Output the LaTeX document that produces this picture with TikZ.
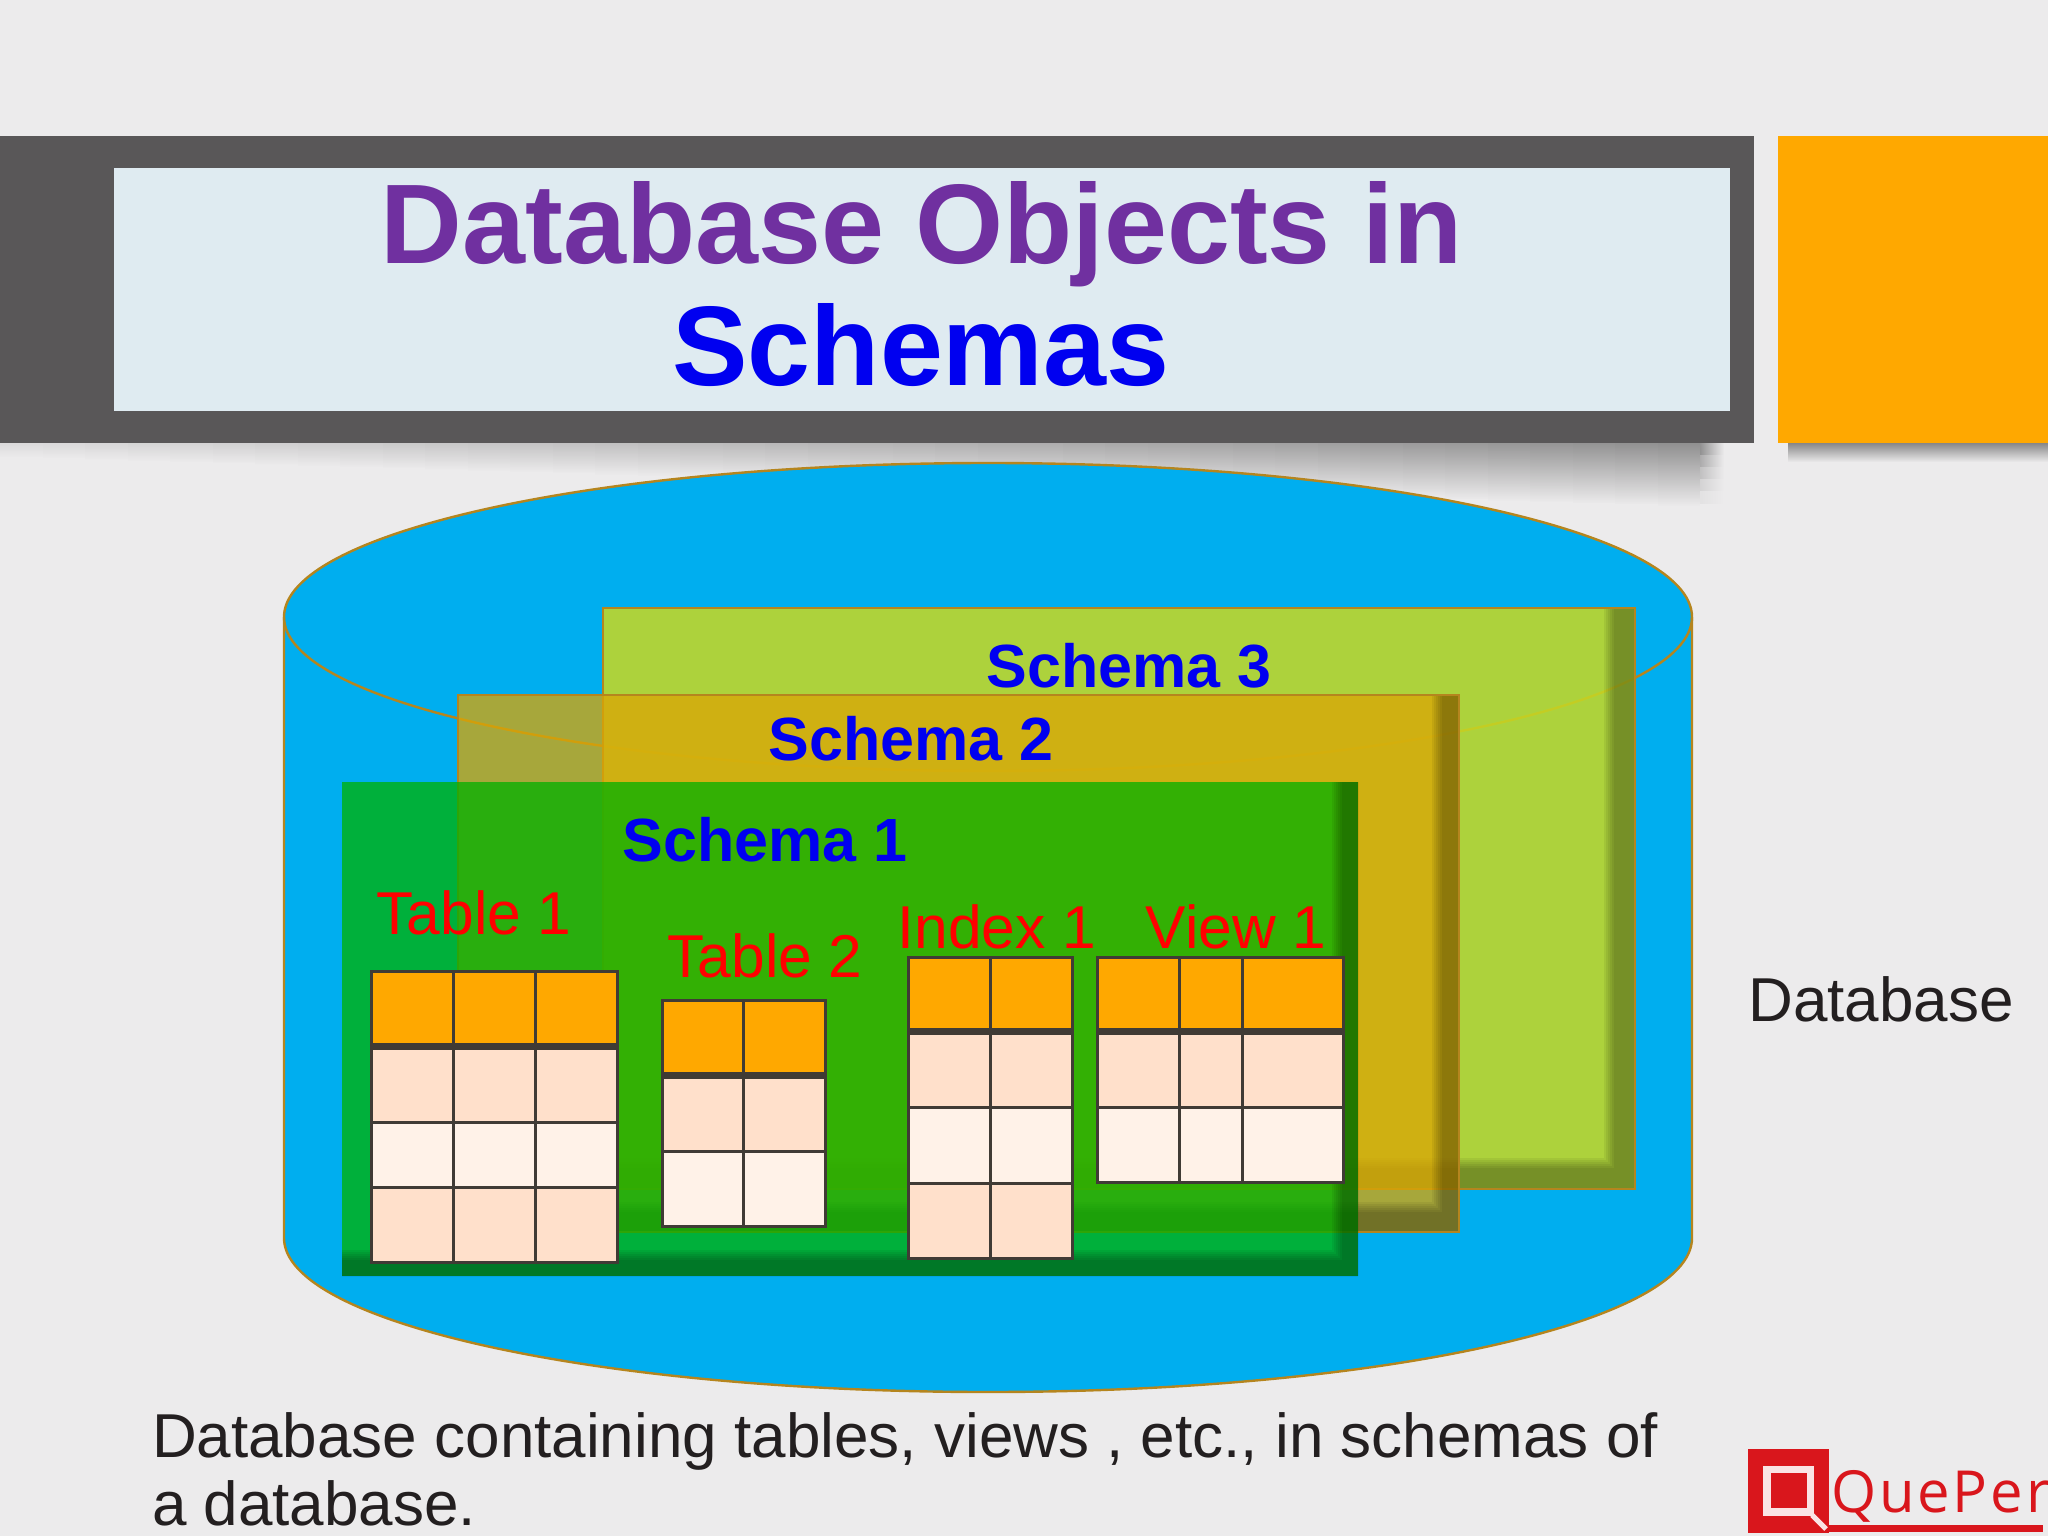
\documentclass[tikz,border=0pt]{standalone}
\usepackage{fontspec}
\setmainfont{Liberation Sans}
\newfontfamily\logofont[LetterSpace=5]{Open Sans}
\usetikzlibrary{fadings,calc}
\definecolor{pagebg}{HTML}{ECEBEC}
\definecolor{barGrey}{HTML}{595758}
\definecolor{titleBox}{HTML}{DFEBF1}
\definecolor{accent}{HTML}{FFA800}
\definecolor{dbBlue}{HTML}{00AEEF}
\definecolor{dbLine}{HTML}{B5851E}
\definecolor{schemaC}{HTML}{C6D824}
\definecolor{schemaB}{HTML}{DAA606}
\definecolor{schemaA}{HTML}{00B100}
\definecolor{cellLine}{HTML}{403B35}
\definecolor{rowA}{HTML}{FFE0CB}
\definecolor{rowB}{HTML}{FFF2E8}
\definecolor{inkDark}{HTML}{231F20}
\definecolor{logoRed}{HTML}{D9161C}
\definecolor{titlePurple}{HTML}{7030A0}
\definecolor{inkBlue}{HTML}{0000F0}
\tikzset{
  txt/.style={inner sep=0pt,outer sep=0pt,anchor=base},
  titletext/.style={txt,font=\fontsize{113.2}{113}\selectfont\bfseries},
  schemalabel/.style={txt,text=inkBlue,font=\fontsize{61}{61}\selectfont\bfseries},
  objlabel/.style={txt,text=red,font=\fontsize{60.5}{60}\selectfont},
  plaintext/.style={txt,text=inkDark,font=\fontsize{62}{62}\selectfont},
  cellrule/.style={draw=cellLine,line width=3pt},
  headrule/.style={draw=cellLine,line width=7pt},
}
% inset shadow of a schema: L-shaped dark band with a soft inner edge
\newcommand{\insetband}[6]{% x0,y0,x1,y1,bandX,bandY
  \foreach \k in {0,1,...,5}{
    \fill[black,opacity=0.06]
      (#1,{#4-#6-5+\k*2}) -- ({#3-#5-5+\k*2},{#4-#6-5+\k*2}) -- ({#3-#5-5+\k*2},#2) -- (#3,#2) -- (#3,#4) -- (#1,#4) -- cycle;
  }
}
\begin{document}
\begin{tikzpicture}[x=1pt,y=-1pt]
\useasboundingbox (0,0) rectangle (2048,1536);
\fill[pagebg] (0,0) rectangle (2048,1536);
% bar shadows: a wedge that deepens towards the right
\foreach \k in {0,1,...,39}{
  \pgfmathsetmacro{\sx}{\k*42.5}
  \pgfmathsetmacro{\sh}{14+\k*1.25}
  \pgfmathsetmacro{\so}{0.12+\k*0.0145}
  \fill[black!60,path fading=south,opacity=\so] (\sx,443) rectangle ({\sx+42.5},{443+\sh});
}
\foreach \k/\lv in {0/38,1/27,2/18,3/10,4/4}{
  \shade[left color=black!\lv!pagebg,right color=pagebg] (1700,{443+\k*12}) rectangle (1724,{455+\k*12});
}
\fill[black!60,path fading=south,opacity=.75] (1788,443) rectangle (2048,462);
% title bar
\fill[barGrey] (0,136) rectangle (1754,443);
\fill[titleBox] (114,168) rectangle (1730,411);
\fill[accent] (1778,136) rectangle (2048,443);
% cylinder
\path[fill=dbBlue,draw=dbLine,line width=2.4pt]
  (284,617) .. controls (284,532) and (599,463) .. (988,463)
  .. controls (1377,463) and (1692,532) .. (1692,617)
  -- (1692,1238) .. controls (1692,1323) and (1377,1392) .. (988,1392)
  .. controls (599,1392) and (284,1323) .. (284,1238) -- cycle;
\draw[dbLine,line width=2.4pt] (284,617) .. controls (284,702) and (599,771) .. (988,771)
  .. controls (1377,771) and (1692,702) .. (1692,617);
% schema 3
\fill[schemaC,opacity=.88] (603,608) rectangle (1635,1189);
\insetband{603}{608}{1635}{1189}{26}{26}
\draw[dbLine,line width=2.4pt] (603,608) rectangle (1635,1189);
% schema 2
\fill[schemaB,opacity=.77] (458,695) rectangle (1459,1232);
\insetband{458}{695}{1459}{1232}{22}{25}
\draw[dbLine,line width=2.4pt] (458,695) rectangle (1459,1232);
% schema 1
\fill[schemaA,opacity=.75] (342,782) rectangle (1358,1276);
\insetband{342}{782}{1358}{1276}{21}{21}
% Table 1
\fill[accent] (371,971) rectangle (617,1045);
\fill[rowA] (371,1045) rectangle (617,1122);
\fill[rowB] (371,1122) rectangle (617,1187);
\fill[rowA] (371,1187) rectangle (617,1262);
\draw[cellrule] (371,971) rectangle (617,1262);
\foreach \cx in {453,535} \draw[cellrule] (\cx,971) -- (\cx,1262);
\foreach \cy in {1122,1187} \draw[cellrule] (371,\cy) -- (617,\cy);
\draw[headrule] (371,1046) -- (617,1046);
% Table 2
\fill[accent] (662,1000) rectangle (825,1075);
\fill[rowA] (662,1075) rectangle (825,1151);
\fill[rowB] (662,1151) rectangle (825,1226);
\draw[cellrule] (662,1000) rectangle (825,1226);
\draw[cellrule] (743,1000) -- (743,1226);
\draw[cellrule] (662,1151) -- (825,1151);
\draw[headrule] (662,1075) -- (825,1075);
% Index 1
\fill[accent] (908,957) rectangle (1072,1032);
\fill[rowA] (908,1032) rectangle (1072,1107);
\fill[rowB] (908,1107) rectangle (1072,1183);
\fill[rowA] (908,1183) rectangle (1072,1258);
\draw[cellrule] (908,957) rectangle (1072,1258);
\draw[cellrule] (990,957) -- (990,1258);
\foreach \cy in {1107,1183} \draw[cellrule] (908,\cy) -- (1072,\cy);
\draw[headrule] (908,1031) -- (1072,1031);
% View 1
\fill[accent] (1097,957) rectangle (1343,1032);
\fill[rowA] (1097,1032) rectangle (1343,1107);
\fill[rowB] (1097,1107) rectangle (1343,1182);
\draw[cellrule] (1097,957) rectangle (1343,1182);
\foreach \cx in {1179,1242} \draw[cellrule] (\cx,957) -- (\cx,1182);
\draw[cellrule] (1097,1107) -- (1343,1107);
\draw[headrule] (1097,1031) -- (1343,1031);
% texts
\node[titletext,text=titlePurple] (title1) at (922,263.5) {Database Objects in};
\node[titletext,text=inkBlue] (title2) at (921,385) {Schemas};
\node[schemalabel] (s3) at (1129,687) {Schema 3};
\node[schemalabel] (s2) at (911,760) {Schema 2};
\node[schemalabel] (s1) at (765,861) {Schema 1};
\node[objlabel] (t1) at (474,934) {Table 1};
\node[objlabel] (t2) at (765,977) {Table 2};
\node[objlabel] (i1) at (997,948) {Index 1};
\node[objlabel] (v1) at (1236,948) {View 1};
\node[plaintext] (dbname) at (1881,1021) {Database};
\node[plaintext,anchor=base west] (cap1) at (152,1457) {Database containing tables, views , etc., in schemas of};
\node[plaintext,anchor=base west] (cap2) at (152,1525) {a database.};
% logo
\fill[logoRed] (1748,1449) rectangle (1829,1533);
\fill[white!88!logoRed] (1763,1466) rectangle (1814,1516);
\fill[logoRed] (1771,1473) rectangle (1807,1508);
\draw[white!88!logoRed,line width=5pt] (1812,1515) -- (1826,1529);
\fill[logoRed] (1829,1525) rectangle (2043,1532);
\node[txt,anchor=base west,text=logoRed,font=\logofont\fontsize{58}{58}\selectfont] (logo) at (1831,1512) {QuePer};
\end{tikzpicture}
\end{document}
